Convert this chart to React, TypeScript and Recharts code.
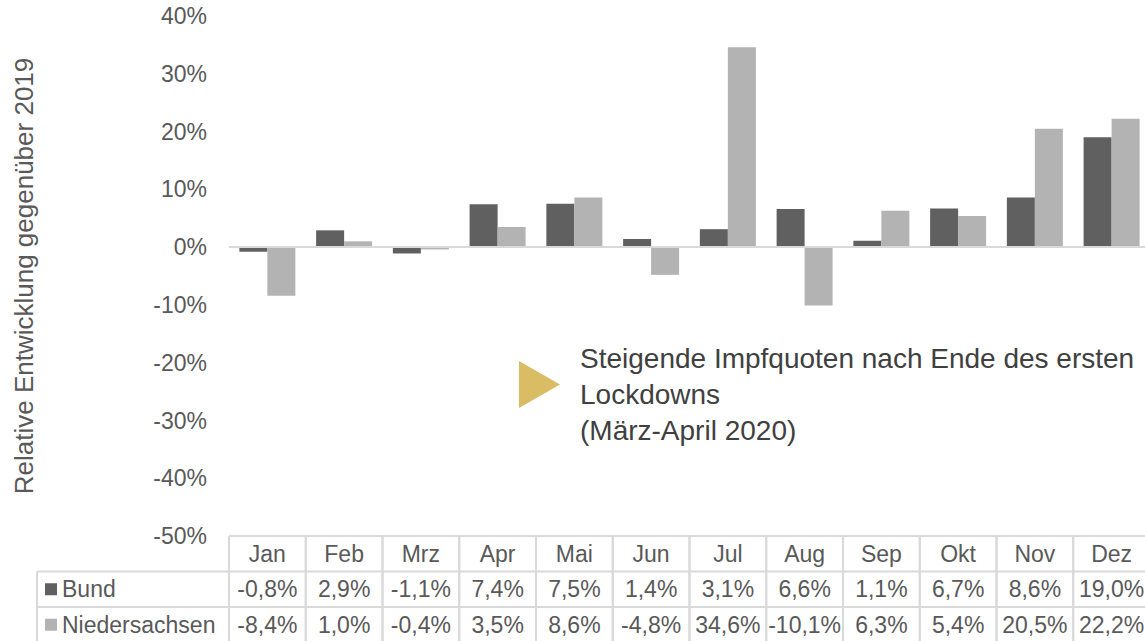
import { BarChart, Bar, XAxis, YAxis, ReferenceLine } from 'recharts'

const months = ['Jan', 'Feb', 'Mrz', 'Apr', 'Mai', 'Jun', 'Jul', 'Aug', 'Sep', 'Okt', 'Nov', 'Dez']
const bund = [-0.8, 2.9, -1.1, 7.4, 7.5, 1.4, 3.1, 6.6, 1.1, 6.7, 8.6, 19.0]
const niedersachsen = [-8.4, 1.0, -0.4, 3.5, 8.6, -4.8, 34.6, -10.1, 6.3, 5.4, 20.5, 22.2]
const yTicks = [-50, -40, -30, -20, -10, 0, 10, 20, 30, 40]
const noteLines = ['Steigende Impfquoten nach Ende des ersten', 'Lockdowns', '(März-April 2020)']

const data = months.map((m, i) => ({ month: m, bund: bund[i], nds: niedersachsen[i] }))

const FONT = '"Liberation Sans", Arial, sans-serif'
const TEXT = '#595959'
const GRID = '#d9d9d9'
const DARK = '#606060'
const LIGHT = '#b3b3b3'
const ROW = 35.5
const LABEL_LEFT = 37

const fmt = (v: number) => v.toFixed(1).replace('.', ',') + '%'

function TableTick(props: any) {
  const { x, y, payload, index } = props
  const half = payload && payload.offset ? payload.offset : 38.4
  const left = x - half
  const right = x + half
  const i = payload ? payload.index ?? index : index
  const top = y
  const r1 = top + ROW
  const r2 = top + ROW * 2
  const bottom = top + ROW * 3 + 4
  const textProps = { fontFamily: FONT, fontSize: 23, fill: TEXT, textAnchor: 'middle' as const, dominantBaseline: 'central' as const }
  return (
    <g>
      <line x1={left} x2={right} y1={top} y2={top} stroke={GRID} strokeWidth={2} />
      <line x1={left} x2={right} y1={r1} y2={r1} stroke={GRID} strokeWidth={2} />
      <line x1={left} x2={right} y1={r2} y2={r2} stroke={GRID} strokeWidth={2} />
      <line x1={left} x2={left} y1={top} y2={bottom} stroke={GRID} strokeWidth={2} />
      <line x1={right} x2={right} y1={top} y2={bottom} stroke={GRID} strokeWidth={2} />
      <text x={x} y={top + ROW / 2} {...textProps}>{months[i]}</text>
      <text x={x} y={r1 + ROW / 2} {...textProps}>{fmt(bund[i])}</text>
      <text x={x} y={r2 + ROW / 2} {...textProps}>{fmt(niedersachsen[i])}</text>
      {i === 0 && (
        <g>
          <line x1={LABEL_LEFT} x2={left} y1={r1} y2={r1} stroke={GRID} strokeWidth={2} />
          <line x1={LABEL_LEFT} x2={left} y1={r2} y2={r2} stroke={GRID} strokeWidth={2} />
          <line x1={LABEL_LEFT} x2={LABEL_LEFT} y1={r1} y2={bottom} stroke={GRID} strokeWidth={2} />
          <rect x={45} y={r1 + ROW / 2 - 6} width={12} height={12} fill={DARK} />
          <rect x={45} y={r2 + ROW / 2 - 6} width={12} height={12} fill={LIGHT} />
          <text x={62} y={r1 + ROW / 2} {...textProps} textAnchor="start">Bund</text>
          <text x={62} y={r2 + ROW / 2} {...textProps} textAnchor="start">Niedersachsen</text>
        </g>
      )}
    </g>
  )
}

function AxisTitle(props: any) {
  const vb = props.viewBox || { x: 0, y: 16, width: 229, height: 520 }
  const cx = 24
  const cy = vb.y + vb.height / 2
  return (
    <text
      x={cx}
      y={cy}
      transform={`rotate(-90, ${cx}, ${cy})`}
      textAnchor="middle"
      dominantBaseline="central"
      fontFamily={FONT}
      fontSize={26}
      fill={TEXT}
    >
      Relative Entwicklung gegenüber 2019
    </text>
  )
}

export default function App() {
  return (
    <div style={{ position: 'absolute', left: 0, top: 0, width: 1145, height: 641, overflow: 'hidden', background: '#fff' }}>
      <BarChart
        width={1150}
        height={641}
        data={data}
        margin={{ top: 16, right: 0, left: 0, bottom: 0 }}
        barCategoryGap="13.5%"
        barGap={0}
      >
        <YAxis
          width={229}
          domain={[-50, 40]}
          ticks={yTicks}
          tickFormatter={(v: number) => `${v}%`}
          tick={{ fill: TEXT, fontSize: 23, fontFamily: FONT }}
          tickLine={false}
          axisLine={false}
          tickMargin={16}
          label={<AxisTitle />}
        />
        <XAxis
          dataKey="month"
          height={105}
          axisLine={false}
          tickLine={false}
          tickSize={0}
          tickMargin={0}
          interval={0}
          tick={<TableTick />}
        />
        <ReferenceLine y={0} stroke={GRID} strokeWidth={2} />
        <Bar dataKey="bund" name="Bund" fill={DARK} isAnimationActive={false} />
        <Bar dataKey="nds" name="Niedersachsen" fill={LIGHT} isAnimationActive={false} />
      </BarChart>
      <svg style={{ position: 'absolute', left: 0, top: 0 }} width={1145} height={641} pointerEvents="none">
        <polygon points="519,361 560,384.5 519,408" fill="#d9bc63" />
        {noteLines.map((line, k) => (
          <text key={k} x={580} y={368 + k * 36} fontFamily={FONT} fontSize={28} fill="#404040">
            {line}
          </text>
        ))}
      </svg>
    </div>
  )
}
